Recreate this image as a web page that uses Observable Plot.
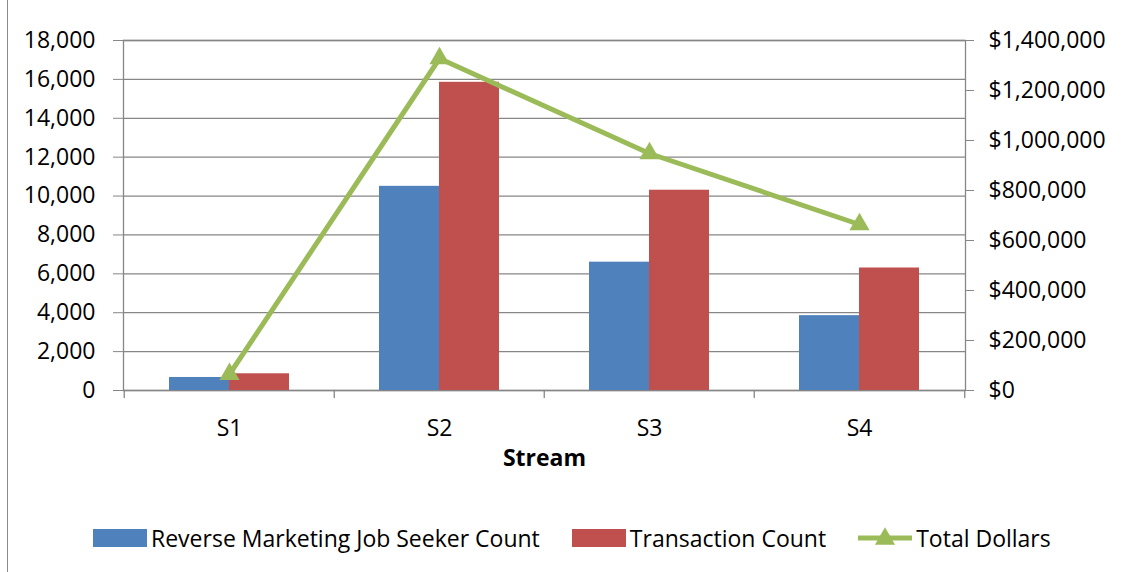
<!DOCTYPE html>
<html><head><meta charset="utf-8">
<script src="https://cdn.jsdelivr.net/npm/d3@7"></script>
<script src="https://cdn.jsdelivr.net/npm/@observablehq/plot@0.6"></script>
<style>
body{margin:0;background:#fff;font-family:"Open Sans",sans-serif;}
#wrap{position:relative;width:1123px;height:572px;overflow:hidden;background:#fff}
#border{position:absolute;left:7px;top:0;height:572px;border-left:1.5px solid #8a8a8a}
#chart{position:absolute;left:0;top:0}
#legend{position:absolute;left:93px;top:522px;display:flex;align-items:center;font-size:23px;line-height:32px;color:#000;white-space:nowrap}
.item{display:flex;align-items:center;margin-right:32px}
.sw{display:inline-block;width:54px;height:18px;margin-right:4px}
</style></head>
<body><div id="wrap"><div id="border"></div><div id="chart"></div><div id="legend"></div></div>
<script>
const streams = ["S1", "S2", "S3", "S4"];
const seekerCounts = [670, 10500, 6600, 3850];
const transactionCounts = [860, 15850, 10300, 6300];
const totalDollars = [65000, 1328000, 948000, 664000];
const leftTicks = [0, 2000, 4000, 6000, 8000, 10000, 12000, 14000, 16000, 18000];
const rightTicks = [0, 200000, 400000, 600000, 800000, 1000000, 1200000, 1400000];
const leftMax = 18000, rightMax = 1400000;
const seriesNames = ["Reverse Marketing Job Seeker Count", "Transaction Count", "Total Dollars"];
const colors = ["#4F81BD", "#C0504D", "#9BBB59"];
const xTitle = "Stream";

const ratio = leftMax / rightMax;
const data = streams.map((s, i) => ({
  stream: s, seekers: seekerCounts[i], transactions: transactionCounts[i],
  dollars: totalDollars[i], dollarsY: totalDollars[i] * ratio
}));

const W = 1123, H = 480, ML = 123, MR = 158, MT = 40, MB = 90;
const step = (W - ML - MR) / streams.length;
const groupW = 120;
const pin = 1 - groupW / step;
const fmt = d3.format(",");
const gridColor = "#868686";
const tickShape = {draw(ctx, l) { ctx.moveTo(0, 0); ctx.lineTo(0, -l); }};

const chart = Plot.plot({
  width: W, height: H, marginLeft: ML, marginRight: MR, marginTop: MT, marginBottom: MB,
  style: {fontFamily: "Open Sans", fontSize: "23px", color: "#000", background: "transparent", overflow: "visible"},
  x: {domain: streams, paddingInner: pin, paddingOuter: pin / 2, label: null, axis: null},
  y: {domain: [0, leftMax], label: null, axis: null},
  marks: [
    Plot.gridY(leftTicks, {stroke: gridColor, strokeOpacity: 1, strokeWidth: 1.3}),
    Plot.frame({stroke: gridColor, strokeWidth: 1.3}),
    Plot.barY(data, {x: "stream", y: "seekers", fill: colors[0], insetLeft: 0, insetRight: groupW / 2}),
    Plot.barY(data, {x: "stream", y: "transactions", fill: colors[1], insetLeft: groupW / 2, insetRight: 0}),
    Plot.line(data, {x: "stream", y: "dollarsY", stroke: colors[2], strokeWidth: 5}),
    Plot.dot(data, {x: "stream", y: "dollarsY", symbol: "triangle", r: 7.5, fill: colors[2], stroke: null}),
    Plot.axisY(leftTicks, {anchor: "left", tickSize: 10, tickPadding: 18, tickFormat: fmt, stroke: gridColor, label: null}),
    Plot.axisY(rightTicks.map(v => v * ratio), {anchor: "right", tickSize: 8, tickPadding: 15,
      tickFormat: v => "$" + fmt(Math.round(v / ratio)), stroke: gridColor, label: null}),
    Plot.axisX({tickSize: 0, tickPadding: 29, label: null}),
    Plot.vector(streams, {x: d => d, y: () => 0, length: 7, rotate: 180, anchor: "start", shape: tickShape, stroke: gridColor, strokeWidth: 1.3, dx: -step / 2}),
    Plot.vector(streams.slice(-1), {x: d => d, y: () => 0, length: 7, rotate: 180, anchor: "start", shape: tickShape, stroke: gridColor, strokeWidth: 1.3, dx: step / 2}),
    Plot.text([xTitle], {frameAnchor: "bottom", dy: 75, fontWeight: "bold", fontSize: 23})
  ]
});
document.getElementById("chart").appendChild(chart);

const legend = document.getElementById("legend");
seriesNames.forEach((name, i) => {
  const item = document.createElement("div");
  item.className = "item";
  if (i < 2) {
    const sw = document.createElement("span");
    sw.className = "sw";
    sw.style.background = colors[i];
    item.appendChild(sw);
  } else {
    const svg = document.createElementNS("http://www.w3.org/2000/svg", "svg");
    svg.setAttribute("width", 54); svg.setAttribute("height", 22);
    svg.style.marginRight = "4px";
    svg.innerHTML = `<line x1="0" x2="54" y1="11" y2="11" stroke="${colors[2]}" stroke-width="5"/>` +
      `<path d="${d3.symbol(d3.symbolTriangle, Math.PI * 7.5 * 7.5)()}" transform="translate(27,12)" fill="${colors[2]}"/>`;
    item.appendChild(svg);
  }
  const t = document.createElement("span");
  t.textContent = name;
  item.appendChild(t);
  legend.appendChild(item);
});
</script>
</body></html>
